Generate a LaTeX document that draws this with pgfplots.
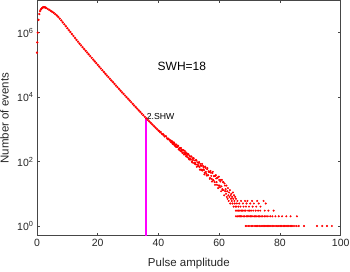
\documentclass[border=0pt]{standalone}
\usepackage{fontspec}
\setmainfont{Liberation Sans}
\usepackage{pgfplots}
\pgfplotsset{compat=1.18}
\definecolor{axgray}{RGB}{70,70,70}
\definecolor{txtgray}{RGB}{38,38,38}
\definecolor{mag}{RGB}{255,0,255}
\begin{document}
\begin{tikzpicture}
\path[use as bounding box] (0,0) rectangle (350pt,271pt);
\begin{axis}[
 at={(37pt,35.3pt)}, anchor=south west,
 scale only axis, width=303.7pt, height=235.2pt,
 xmin=0, xmax=100, ymin=0.5, ymax=1e7, ymode=log,
 xtick={0,20,40,60,80,100},
 ytick={1,100,10000,1000000},
 yticklabels={10\textsuperscript{0},10\textsuperscript{2},10\textsuperscript{4},10\textsuperscript{6}},
 yminorticks=false,
 tick align=inside, major tick length=3pt,
 axis line style={axgray, line width=0.5pt},
 tick style={axgray, line width=0.5pt},
 ticklabel style={font=\fontsize{10.5}{12}\selectfont, text=txtgray},
 /pgf/number format/assume math mode=true,
 xlabel={Pulse amplitude}, ylabel={Number of events},
 label style={font=\fontsize{11.5}{13}\selectfont, text=txtgray},
 xlabel style={at={(axis description cs:0.5,-0.117)}, anchor=center},
 ylabel style={at={(axis description cs:-0.107,0.5)}, anchor=center},
 clip=false,
]
% smooth part
\addplot[only marks, mark=*, mark size=0.95pt, red, mark options={draw=none, fill=red}] table {
x y
0 2.40e5
0.1 5.0e5
0.25 1.00e6
0.5 2.51e6
0.75 3.80e6
1.0 4.68e6
1.25 5.25e6
1.5 5.62e6
1.75 5.95e6
2.0 6.17e6
2.25 6.2e6
2.5 6.17e6
2.75 6.05e6
3.0 5.89e6
3.5 5.50e6
4.0 5.13e6
4.5 4.79e6
5.0 4.47e6
5.5 4.17e6
6.0 3.80e6
6.5 3.47e6
7.0 3.09e6
7.5 2.75e6
8.0 2.40e6
8.5 2.09e6
9.0 1.82e6
9.5 1.585e6
10 1.38e6
10.5 1.20e6
11 1.05e6
11.5 9.12e5
12 7.94e5
12.5 6.92e5
13 6.03e5
13.5 5.25e5
14 4.57e5
14.5 4.03e5
15 3.55e5
15.5 3.13e5
16 2.75e5
16.5 2.43e5
17 2.14e5
17.5 1.88e5
18 1.66e5
18.5 1.46e5
19 1.29e5
19.5 1.135e5
20 1.00e5
20.5 8.81e4
21 7.76e4
21.5 6.84e4
22 6.03e4
22.5 5.33e4
23 4.73e4
23.5 4.19e4
24 3.72e4
24.5 3.29e4
25 2.92e4
25.5 2.58e4
26 2.29e4
26.5 2.03e4
27 1.80e4
27.5 1.59e4
28 1.41e4
28.5 1.26e4
29 1.12e4
29.5 1.00e4
30 8.91e3
30.5 7.89e3
31 7.00e3
31.5 6.19e3
32 5.50e3
32.5 4.90e3
33 4.37e3
33.5 3.89e3
34 3.47e3
34.5 3.09e3
35 2.75e3
35.5 2.45e3
36 2.19e3
36.5 1.96e3
37 1.76e3
37.5 1.57e3
38 1.41e3
38.5 1.26e3
39 1.135e3
39.5 1.02e3
40 912
};
% noisy part
\addplot[only marks, mark=*, mark size=0.8pt, red, mark options={draw=none, fill=red}] table {
x y
40.25 897
40.5 807
40.75 835
41 751
41.25 696
41.5 720
41.75 668
42 600
42.25 615
42.5 610
42.75 539
43 494
43.25 516
43.5 479
43.75 443
44 459
44.25 400
44.5 406
44.75 399
45 341
45.25 368
45.5 318
45.75 341
46 284
46.25 282
46.5 305
46.75 242
47 266
47.25 254
47.5 206
47.75 232
48 192
48.25 224
48.5 183
48.75 164
49 195
49.25 153
49.5 167
49.75 164
50 125
50.25 152
50.5 122
50.75 141
51 101
51.25 127
51.5 125
51.75 91
52 108
52.25 82
52.5 107
52.75 80
53 71
53.25 92
53.5 68
53.75 85
54 57
54.25 74
54.5 53
54.75 72
55 55
55.25 45
55.5 64
55.75 42
56 58
56.25 37
56.5 50
56.75 48
57 31
57.25 45
57.5 29
57.75 44
58 27
58.25 35
58.5 23
58.75 36
59 30
59.25 19
59.5 32
59.75 18
60 27
60.25 16
60.5 27
60.75 17
61 14
61.25 23
61.5 13
61.75 21
62 12
44.125 406
44.375 435
44.625 358
44.875 378
45.125 390
45.375 315
45.625 291
45.875 334
46.125 286
46.375 315
46.625 237
46.875 257
47.125 220
47.375 267
47.625 228
47.875 184
48.125 224
48.375 166
48.625 216
48.875 178
49.125 143
49.375 179
49.625 136
49.875 170
50.125 116
50.375 142
50.625 116
50.875 145
51.125 94
51.375 112
51.625 128
51.875 86
52.125 90
52.375 113
52.625 69
52.875 94
53.125 77
53.375 97
53.625 56
53.875 75
54.125 54
54.375 85
54.625 56
54.875 65
55.125 40
55.375 70
55.625 48
55.875 37
56.125 63
56.375 38
56.625 47
56.875 29
57.125 51
57.375 36
57.625 24
57.875 48
58.125 26
58.375 36
58.625 19
58.875 38
59.125 23
59.375 31
59.625 15
59.875 34
60.125 18
60.375 24
60.625 12
60.875 27
61.125 13
61.375 23
61.625 9
61.875 18
62.125 14
62.25 10
62.375 18
62.5 8
62.625 12
62.75 7
62.875 15
63 9
63.125 6
63.25 11
63.375 8
63.5 13
63.625 5
63.75 9
63.875 7
64 10
64.125 6
64.25 8
64.375 5
64.5 11
64.625 7
64.75 4
64.875 9
65 6
65.125 5
65.25 8
65.375 4
65.5 7
66.0 6
67.2 6
68.5 6
69.3 6
70.8 6
72.5 6
74.6 6
65.8 5
66.6 5
67.8 5
69.0 5
70.2 5
71.4 5
73.0 5
75.3 5
65.6 4
66.3 4
67.0 4
68.0 4
68.8 4
69.8 4
71.0 4
72.2 4
73.6 4
65.5 3
65.9 3
66.4 3
66.8 3
67.3 3
67.7 3
68.2 3
68.7 3
69.5 3
70.0 3
70.5 3
71.2 3
72.0 3
72.8 3
73.5 3
75.0 3
76.2 3
77.9 3
65.5 2
65.9 2
66.2 2
66.6 2
67.0 2
67.4 2
67.9 2
68.3 2
68.9 2
69.4 2
69.8 2
70.3 2
70.7 2
71.1 2
71.6 2
72.0 2
72.4 2
72.9 2
73.3 2
73.8 2
74.3 2
74.9 2
75.4 2
76.0 2
76.8 2
77.5 2
78.5 2
79.6 2
80.7 2
82.1 2
83.5 2
85.6 2
68.7 1
69.1 1
69.6 1
70.1 1
70.6 1
71.0 1
71.5 1
71.9 1
72.3 1
72.7 1
73.2 1
73.7 1
74.1 1
74.5 1
75.0 1
75.4 1
75.8 1
76.3 1
76.7 1
77.1 1
77.6 1
78.0 1
78.4 1
78.9 1
79.3 1
79.7 1
80.2 1
80.6 1
81.1 1
81.5 1
82.0 1
82.4 1
82.9 1
83.4 1
83.8 1
84.3 1
84.9 1
85.5 1
86.2 1
87.9 1
92.2 1
93.9 1
95.5 1
97.1 1
};
% threshold line
\addplot[mag, line width=2pt] coordinates {(36,0.5) (36,2190)};
\node[anchor=south west, inner sep=0pt, font=\fontsize{8.7}{10}\selectfont, text=black] at (axis cs:36.1,2000) {2.SHW};
\node[font=\fontsize{12}{14}\selectfont, text=black] at (axis cs:47.7,8.9e4) {SWH=18};
\end{axis}
\end{tikzpicture}
\end{document}
